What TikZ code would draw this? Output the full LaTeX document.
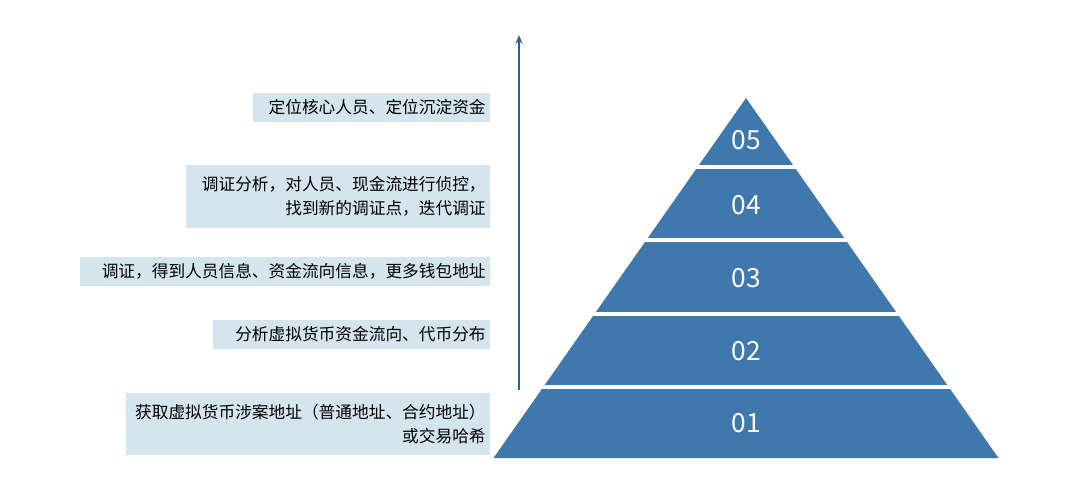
\documentclass[tikz,border=0pt]{standalone}
\usepackage{fontspec}
\newfontfamily\cjk{Noto Sans CJK SC}
\usetikzlibrary{arrows.meta}
\definecolor{pyrblue}{HTML}{3F78AC}
\definecolor{boxblue}{HTML}{D5E5EE}
\begin{document}
\begin{tikzpicture}[x=0.02cm,y=-0.02cm,
    lbl/.style={anchor=east,align=right,inner sep=0pt,font=\cjk\fontsize{9.5}{13.5}\selectfont},
    num/.style={text=white,font=\cjk\fontsize{15}{15}\selectfont}]
    \useasboundingbox (0,0) rectangle (1080,484);
    \def\ax{746}
    \def\ay{98}
    \def\by{458}
    \def\hw{252.5}

    % PYRAMID
    \fill[pyrblue] (\ax,\ay) -- (\ax+\hw,\by) -- (\ax-\hw,\by) -- cycle;
    \foreach \g in {167,240,313.5,386.5}
      \fill[white] (400,\g-2) rectangle (1050,\g+2);
    \node[num] (n5) at (\ax,140) {05};
    \node[num] (n4) at (\ax,205) {04};
    \node[num] (n3) at (\ax,278) {03};
    \node[num] (n2) at (\ax,351) {02};
    \node[num] (n1) at (\ax,423) {01};

    % AXIS
    \coordinate (a0) at (519,390);
    \coordinate (a1) at (519,35);
    \draw[-{Stealth[length=5pt,width=4pt]},pyrblue!80!black,line width=1.2pt] (a0) -- (a1);

    % LABELS
    \fill[boxblue] (253,93) rectangle (490,122);
    \node[lbl] (l5) at (486,107.5) {定位核心人员、定位沉淀资金};
    \fill[boxblue] (186,165) rectangle (490,228);
    \node[lbl] (l4) at (486,196.5) {调证分析，对人员、现金流进行侦控，\\找到新的调证点，迭代调证};
    \fill[boxblue] (80,257) rectangle (490,286);
    \node[lbl] (l3) at (486,271.5) {调证，得到人员信息、资金流向信息，更多钱包地址};
    \fill[boxblue] (213,320) rectangle (490,349);
    \node[lbl] (l2) at (486,334.5) {分析虚拟货币资金流向、代币分布};
    \fill[boxblue] (126,393) rectangle (490,455);
    \node[lbl] (l1) at (486,424) {获取虚拟货币涉案地址（普通地址、合约地址）\\或交易哈希};
\end{tikzpicture}
\end{document}
